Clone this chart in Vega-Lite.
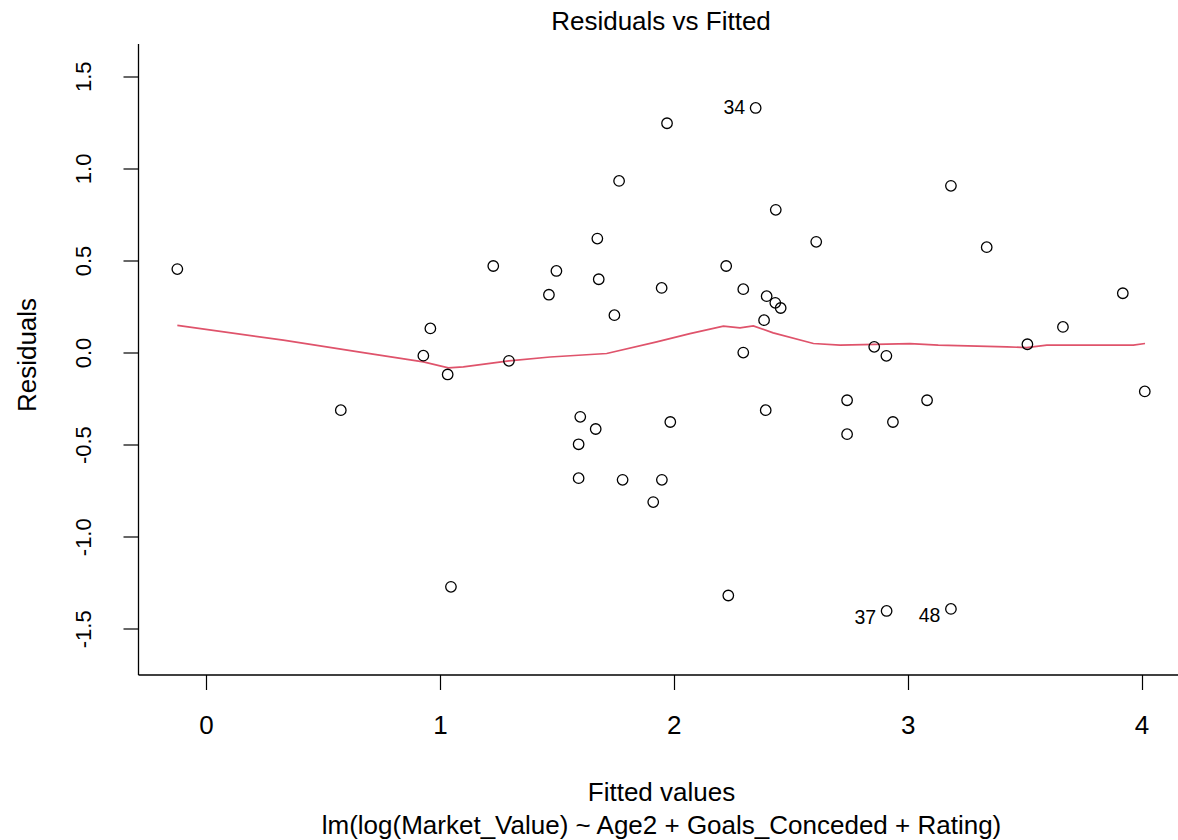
{
  "$schema": "https://vega.github.io/schema/vega-lite/v6.json",
  "autosize": {"type": "none"},
  "padding": {"left": 138, "top": 43.5, "right": 0, "bottom": 165.5},
  "width": 1040,
  "height": 631,
  "background": "white",
  "title": {"text": "Residuals vs Fitted", "fontSize": 26, "fontWeight": "normal", "font": "Liberation Sans", "color": "black", "anchor": "middle", "frame": "group", "baseline": "alphabetic", "offset": 13.5, "dx": 3, "dy": 26},
  "config": {
    "font": "Liberation Sans",
    "view": {"stroke": null},
    "axis": {"labelColor": "black", "titleColor": "black", "tickColor": "black", "tickWidth": 1.2, "grid": false, "domain": true, "domainColor": "black", "domainWidth": 1.3, "labelFont": "Liberation Sans", "titleFont": "Liberation Sans"}
  },
  "datasets": {
    "points": [
      {"fitted": -0.123, "residual": 0.453}, {"fitted": 0.959, "residual": 0.131}, {"fitted": 0.929, "residual": -0.017},
      {"fitted": 1.033, "residual": -0.119}, {"fitted": 1.228, "residual": 0.470}, {"fitted": 1.295, "residual": -0.045},
      {"fitted": 1.466, "residual": 0.314}, {"fitted": 1.498, "residual": 0.443}, {"fitted": 1.673, "residual": 0.619},
      {"fitted": 1.679, "residual": 0.398}, {"fitted": 1.746, "residual": 0.203}, {"fitted": 1.766, "residual": 0.932},
      {"fitted": 1.948, "residual": 0.351}, {"fitted": 1.971, "residual": 1.245}, {"fitted": 2.224, "residual": 0.470},
      {"fitted": 2.297, "residual": 0.344}, {"fitted": 2.350, "residual": 1.328}, {"fitted": 2.436, "residual": 0.775},
      {"fitted": 2.397, "residual": 0.306}, {"fitted": 2.434, "residual": 0.270}, {"fitted": 2.457, "residual": 0.242},
      {"fitted": 2.386, "residual": 0.176}, {"fitted": 2.609, "residual": 0.601}, {"fitted": 2.297, "residual": 0.000},
      {"fitted": 3.185, "residual": 0.905}, {"fitted": 3.338, "residual": 0.572}, {"fitted": 2.857, "residual": 0.031},
      {"fitted": 2.909, "residual": -0.018}, {"fitted": 3.512, "residual": 0.045}, {"fitted": 3.664, "residual": 0.139},
      {"fitted": 3.920, "residual": 0.322}, {"fitted": 4.014, "residual": -0.211}, {"fitted": 0.576, "residual": -0.313},
      {"fitted": 1.047, "residual": -1.272}, {"fitted": 1.600, "residual": -0.349}, {"fitted": 1.666, "residual": -0.415},
      {"fitted": 1.593, "residual": -0.498}, {"fitted": 1.985, "residual": -0.377}, {"fitted": 2.393, "residual": -0.313},
      {"fitted": 2.741, "residual": -0.259}, {"fitted": 2.741, "residual": -0.443}, {"fitted": 1.593, "residual": -0.682},
      {"fitted": 1.781, "residual": -0.691}, {"fitted": 1.949, "residual": -0.691}, {"fitted": 1.912, "residual": -0.812},
      {"fitted": 2.233, "residual": -1.319}, {"fitted": 3.083, "residual": -0.259}, {"fitted": 2.937, "residual": -0.377},
      {"fitted": 2.910, "residual": -1.403}, {"fitted": 3.185, "residual": -1.392}
    ],
    "lowess": [
      {"fitted": -0.123, "smooth": 0.148}, {"fitted": 0.330, "smooth": 0.067}, {"fitted": 0.672, "smooth": 0.000},
      {"fitted": 0.929, "smooth": -0.051}, {"fitted": 1.036, "smooth": -0.083}, {"fitted": 1.100, "smooth": -0.078},
      {"fitted": 1.295, "smooth": -0.045}, {"fitted": 1.471, "smooth": -0.024}, {"fitted": 1.713, "smooth": -0.005},
      {"fitted": 1.927, "smooth": 0.058}, {"fitted": 2.069, "smooth": 0.103}, {"fitted": 2.212, "smooth": 0.143},
      {"fitted": 2.283, "smooth": 0.134}, {"fitted": 2.340, "smooth": 0.145}, {"fitted": 2.425, "smooth": 0.107},
      {"fitted": 2.597, "smooth": 0.049}, {"fitted": 2.711, "smooth": 0.040}, {"fitted": 3.010, "smooth": 0.049},
      {"fitted": 3.131, "smooth": 0.040}, {"fitted": 3.424, "smooth": 0.031}, {"fitted": 3.509, "smooth": 0.027},
      {"fitted": 3.595, "smooth": 0.040}, {"fitted": 3.965, "smooth": 0.040}, {"fitted": 4.015, "smooth": 0.049}
    ],
    "labels": [
      {"fitted": 2.350, "residual": 1.328, "id": "34"},
      {"fitted": 2.910, "residual": -1.403, "id": "37"},
      {"fitted": 3.185, "residual": -1.392, "id": "48"}
    ]
  },
  "layer": [
    {
      "mark": {"type": "rule", "color": "#BEBEBE", "strokeDash": [3, 3], "strokeWidth": 1},
      "encoding": {
        "y": {"datum": 0, "type": "quantitative", "scale": {"domain": [-1.748, 1.678], "nice": false, "zero": false},
          "axis": {"title": "Residuals", "values": [-1.5, -1, -0.5, 0, 0.5, 1, 1.5],
            "labelExpr": "datum.value < 0 ? '-' + format(-datum.value, '.1f') : format(datum.value, '.1f')",
            "labelAngle": 270, "labelAlign": "center", "labelBaseline": "alphabetic", "labelPadding": 33, "labelFontSize": 22,
            "tickSize": 15, "labelFlush": false, "labelOverlap": false,
            "titleAngle": 270, "titleX": -103, "titleY": 311, "titleBaseline": "alphabetic", "titleAlign": "center",
            "titleFontSize": 26, "titleFontWeight": "normal"}}
      }
    },
    {
      "mark": {"type": "rule", "color": "black", "strokeWidth": 1.3},
      "encoding": {
        "y": {"datum": 1.678, "type": "quantitative", "title": "Residuals"}
      }
    },
    {
      "data": {"name": "lowess"},
      "mark": {"type": "line", "color": "#DF536B", "strokeWidth": 1.7},
      "encoding": {
        "x": {"field": "fitted", "type": "quantitative", "scale": {"domain": [-0.2912, 4.156], "nice": false, "zero": false},
          "axis": {"title": ["Fitted values", "lm(log(Market_Value) ~ Age2 + Goals_Conceded + Rating)"], "values": [0, 1, 2, 3, 4], "format": "d",
            "labelBaseline": "alphabetic", "labelPadding": 43.5, "labelFontSize": 26, "tickSize": 15, "labelFlush": false, "labelOverlap": false,
            "titleX": 523, "titleY": 125.5, "titleBaseline": "alphabetic", "titleAlign": "center", "titleAnchor": null,
            "titleLineHeight": 33, "titleFontSize": 26, "titleFontWeight": "normal"}},
        "y": {"field": "smooth", "type": "quantitative", "title": "Residuals"}
      }
    },
    {
      "data": {"name": "points"},
      "mark": {"type": "point", "shape": "circle", "filled": false, "color": "black", "strokeWidth": 1.3, "size": 110, "opacity": 1},
      "encoding": {
        "x": {"field": "fitted", "type": "quantitative", "title": ["Fitted values", "lm(log(Market_Value) ~ Age2 + Goals_Conceded + Rating)"]},
        "y": {"field": "residual", "type": "quantitative", "title": "Residuals"}
      }
    },
    {
      "data": {"name": "labels"},
      "transform": [{"filter": "datum.residual >= 0"}],
      "mark": {"type": "text", "align": "right", "baseline": "middle", "dx": -10.5, "fontSize": 19.5, "color": "black"},
      "encoding": {
        "x": {"field": "fitted", "type": "quantitative", "title": ["Fitted values", "lm(log(Market_Value) ~ Age2 + Goals_Conceded + Rating)"]},
        "y": {"field": "residual", "type": "quantitative", "title": "Residuals"},
        "text": {"field": "id"}
      }
    },
    {
      "data": {"name": "labels"},
      "transform": [{"filter": "datum.residual < 0"}],
      "mark": {"type": "text", "align": "right", "baseline": "middle", "dx": -10.5, "dy": 7, "fontSize": 19.5, "color": "black"},
      "encoding": {
        "x": {"field": "fitted", "type": "quantitative", "title": ["Fitted values", "lm(log(Market_Value) ~ Age2 + Goals_Conceded + Rating)"]},
        "y": {"field": "residual", "type": "quantitative", "title": "Residuals"},
        "text": {"field": "id"}
      }
    }
  ]
}
